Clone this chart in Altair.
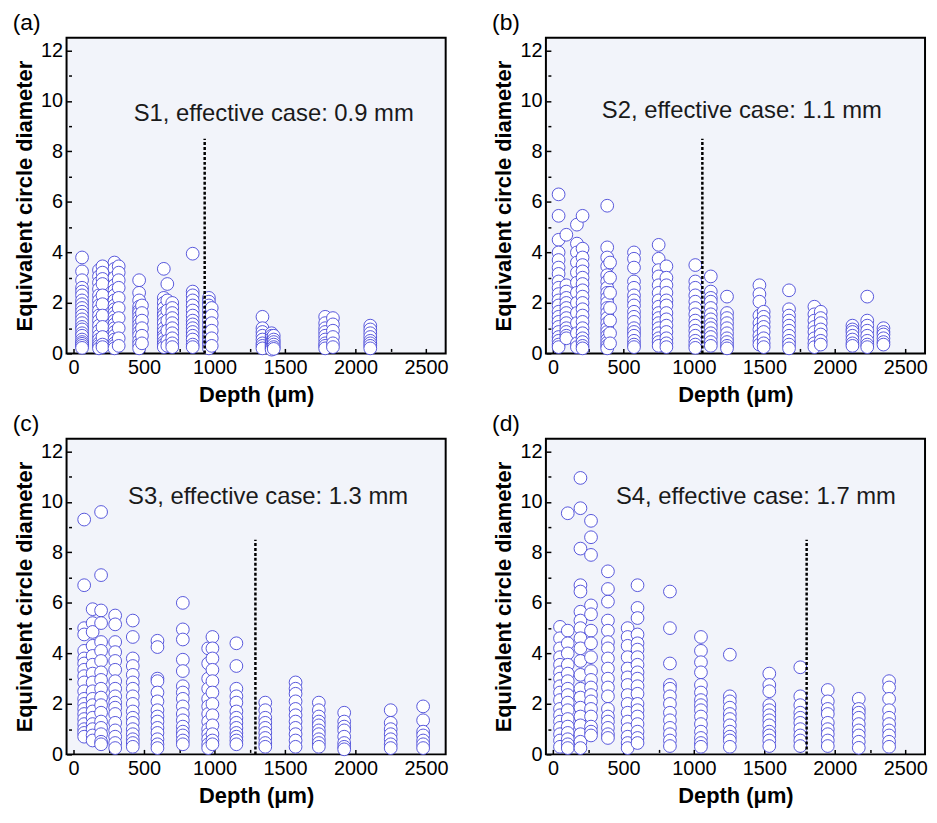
import altair as alt
import pandas as pd

# ---------------- data ----------------
PANEL_LABELS = ["(a)", "(b)", "(c)", "(d)"]
ANNOTATIONS = ["S1, effective case: 0.9 mm", "S2, effective case: 1.1 mm",
               "S3, effective case: 1.3 mm", "S4, effective case: 1.7 mm"]
CASE_DEPTH = [930, 1060, 1290, 1800]          # dashed line position (µm)
CASE_LINE_TOP = 8.5

S1_DEPTH = [60, 180, 205, 290, 320, 465, 485, 640, 665, 700, 845, 960, 980,
            1340, 1405, 1420, 1785, 1840, 2105]
S1_ECD = [
    [3.8, 3.25, 2.9, 2.6, 2.45, 2.3, 2.1, 1.95, 1.8, 1.65, 1.5, 1.35, 1.2, 1.05, 0.95, 0.8, 0.7, 0.55, 0.45, 0.38, 0.3, 0.22],
    [3.3, 3.05, 2.8, 2.55, 2.3, 2.1, 1.9, 1.7, 1.5, 1.3, 1.1, 0.9, 0.7, 0.55, 0.4, 0.3, 0.2],
    [3.45, 3.2, 2.95, 2.75, 2.3, 1.95, 1.5, 1.05, 0.65, 0.35, 0.25],
    [3.6, 3.35, 3.0, 2.7, 2.5, 2.3, 2.1, 1.9, 1.75, 1.6, 1.45, 1.3, 1.15, 1.0, 0.85, 0.7, 0.55, 0.4, 0.3, 0.2],
    [3.45, 3.2, 2.9, 2.6, 2.2, 1.8, 1.4, 1.0, 0.6, 0.3],
    [2.9, 2.4, 2.1, 1.85, 1.7, 1.6, 1.45, 1.3, 1.15, 1.0, 0.85, 0.7, 0.5, 0.35, 0.2],
    [1.9, 1.6, 1.3, 1.0, 0.7, 0.4],
    [3.35, 2.2, 2.0, 1.8, 1.6, 1.5, 1.35, 1.2, 1.0, 0.85, 0.7, 0.6, 0.45, 0.35, 0.25],
    [2.75, 2.1, 1.7, 1.3, 0.9, 0.5, 0.3],
    [2.0, 1.8, 1.6, 1.4, 1.2, 1.0, 0.8, 0.6, 0.4, 0.25],
    [3.95, 2.45, 2.3, 2.1, 1.9, 1.7, 1.5, 1.3, 1.15, 1.0, 0.85, 0.7, 0.55, 0.35, 0.25],
    [2.2, 2.05, 1.9, 1.7, 1.5, 1.3, 1.1, 0.9, 0.75, 0.6, 0.45, 0.35, 0.2],
    [1.8, 1.5, 1.2, 0.9, 0.6, 0.3],
    [1.45, 1.0, 0.85, 0.7, 0.55, 0.4, 0.3, 0.2],
    [0.8, 0.7, 0.6, 0.5, 0.45, 0.4, 0.35, 0.3, 0.25, 0.2, 0.15],
    [0.7, 0.55, 0.45, 0.35, 0.25, 0.18],
    [1.45, 1.2, 1.0, 0.85, 0.7, 0.55, 0.4, 0.3, 0.2],
    [1.4, 1.15, 0.9, 0.65, 0.4, 0.25],
    [1.1, 0.95, 0.8, 0.65, 0.5, 0.4, 0.3, 0.2],
]

S2_DEPTH = [40, 95, 170, 210, 385, 405, 575, 750, 805, 1010, 1120, 1235,
            1465, 1495, 1675, 1855, 1900, 2125, 2230, 2345]
S2_ECD = [
    [6.3, 5.45, 4.5, 4.0, 3.7, 3.4, 3.15, 2.85, 2.6, 2.35, 2.1, 1.9, 1.65, 1.45, 1.25, 1.05, 0.85, 0.65, 0.5, 0.35, 0.25],
    [4.7, 2.7, 2.45, 2.2, 2.0, 1.8, 1.6, 1.4, 1.2, 1.0, 0.85, 0.7, 0.6],
    [5.1, 4.35, 4.0, 3.6, 3.2, 2.8, 2.4, 2.0, 1.6, 1.2, 0.8, 0.4, 0.25],
    [5.45, 4.15, 3.8, 3.5, 3.25, 3.0, 2.75, 2.5, 2.25, 2.0, 1.75, 1.5, 1.25, 1.0, 0.8, 0.6, 0.45, 0.3, 0.2],
    [5.85, 4.2, 3.8, 3.45, 3.1, 2.85, 2.6, 2.4, 2.2, 2.0, 1.8, 1.6, 1.4, 1.2, 1.0, 0.85, 0.7, 0.55, 0.42, 0.3, 0.2],
    [3.6, 3.0, 2.4, 1.8, 1.3, 0.8, 0.4],
    [4.0, 3.75, 3.4, 2.85, 2.6, 2.3, 2.1, 1.9, 1.65, 1.45, 1.25, 1.0, 0.85, 0.7, 0.5, 0.35, 0.25],
    [4.3, 3.75, 3.3, 3.05, 2.7, 2.4, 2.1, 1.85, 1.6, 1.4, 1.2, 1.0, 0.8, 0.6, 0.45, 0.3],
    [3.45, 3.0, 2.7, 2.4, 2.1, 1.9, 1.6, 1.35, 1.1, 0.85, 0.6, 0.4, 0.25],
    [3.5, 2.85, 2.6, 2.3, 2.05, 1.8, 1.55, 1.3, 1.1, 0.9, 0.7, 0.5, 0.35, 0.22],
    [3.05, 2.45, 2.2, 2.05, 1.8, 1.55, 1.35, 1.15, 1.0, 0.8, 0.65, 0.45, 0.3],
    [2.25, 1.6, 1.4, 1.2, 1.0, 0.8, 0.6, 0.45, 0.3, 0.2],
    [2.7, 2.35, 2.05, 1.5, 1.2, 0.95, 0.7, 0.5, 0.35],
    [1.65, 1.45, 1.25, 1.05, 0.85, 0.6, 0.4, 0.25],
    [2.5, 1.75, 1.5, 1.3, 1.1, 0.9, 0.7, 0.5, 0.35, 0.2],
    [1.85, 1.55, 1.3, 1.05, 0.85, 0.6, 0.4, 0.25],
    [1.65, 1.4, 1.2, 0.95, 0.75, 0.5, 0.35],
    [1.1, 0.95, 0.85, 0.7, 0.55, 0.4, 0.3],
    [2.25, 1.3, 1.1, 0.9, 0.7, 0.5, 0.35, 0.25],
    [1.0, 0.85, 0.75, 0.6, 0.45, 0.35],
]

S3_DEPTH = [75, 135, 195, 295, 420, 595, 775, 955, 985, 1155, 1360, 1575,
            1740, 1920, 2250, 2480]
S3_ECD = [
    [9.3, 6.7, 5.0, 4.75, 4.1, 3.8, 3.6, 3.35, 3.1, 2.85, 2.5, 2.2, 2.0, 1.8, 1.6, 1.4, 1.2, 1.0, 0.85, 0.7],
    [5.75, 5.2, 4.85, 4.3, 3.9, 3.55, 3.2, 2.85, 2.5, 2.2, 1.95, 1.7, 1.45, 1.2, 1.0, 0.75, 0.55],
    [9.6, 7.1, 5.7, 5.2, 4.45, 4.1, 3.7, 3.25, 2.95, 2.6, 2.25, 1.95, 1.65, 1.3, 1.05, 0.8, 0.5, 0.4],
    [5.5, 5.15, 4.45, 4.05, 3.7, 3.35, 2.9, 2.6, 2.3, 2.05, 1.85, 1.6, 1.25, 0.95, 0.7, 0.45, 0.25],
    [5.3, 4.65, 3.8, 3.5, 3.15, 2.85, 2.6, 2.3, 2.0, 1.7, 1.45, 1.25, 1.0, 0.8, 0.6, 0.45, 0.3],
    [4.5, 4.25, 3.0, 2.9, 2.45, 2.1, 1.75, 1.5, 1.3, 1.05, 0.85, 0.6, 0.4, 0.25],
    [6.0, 4.95, 4.55, 3.75, 3.3, 2.7, 2.45, 2.2, 1.9, 1.6, 1.35, 1.1, 0.9, 0.75, 0.55, 0.4],
    [4.2, 3.6, 3.0, 2.6, 2.2, 1.9, 1.6, 1.3, 1.0, 0.8, 0.6, 0.4, 0.25],
    [4.65, 4.2, 3.8, 3.35, 2.9, 2.45, 2.0, 1.55, 1.15, 0.8, 0.55, 0.4],
    [4.4, 3.5, 2.6, 2.3, 2.05, 1.7, 1.45, 1.25, 1.05, 0.85, 0.7, 0.55, 0.4],
    [2.05, 1.75, 1.45, 1.25, 1.05, 0.85, 0.65, 0.45, 0.3],
    [2.85, 2.6, 2.4, 2.1, 1.8, 1.55, 1.3, 1.05, 0.8, 0.55, 0.3],
    [2.05, 1.75, 1.5, 1.3, 1.15, 0.95, 0.8, 0.6, 0.45, 0.3],
    [1.65, 1.3, 1.1, 0.95, 0.7, 0.45, 0.3, 0.2],
    [1.75, 1.25, 1.0, 0.8, 0.6, 0.4, 0.25],
    [1.9, 1.35, 0.9, 0.75, 0.55, 0.4, 0.25],
]

S4_DEPTH = [50, 105, 195, 270, 390, 530, 600, 830, 1050, 1255, 1535, 1755,
            1950, 2170, 2385]
S4_ECD = [
    [5.05, 4.6, 4.2, 3.85, 3.55, 3.25, 3.0, 2.7, 2.45, 2.15, 1.8, 1.55, 1.3, 1.05, 0.8, 0.55, 0.3],
    [9.55, 4.9, 4.4, 4.0, 3.55, 3.2, 2.9, 2.6, 2.35, 2.05, 1.75, 1.4, 1.1, 0.85, 0.6, 0.4, 0.25],
    [10.95, 9.75, 8.15, 6.7, 6.45, 5.65, 5.3, 5.0, 4.6, 4.2, 3.7, 3.15, 2.6, 2.25, 1.85, 1.5, 1.15, 0.8, 0.5, 0.25],
    [9.25, 8.6, 7.9, 5.9, 5.55, 4.9, 4.4, 3.85, 3.3, 2.95, 2.65, 2.35, 2.1, 1.8, 1.5, 1.1, 0.9, 0.75],
    [7.25, 6.55, 6.05, 5.3, 4.9, 4.45, 4.2, 3.8, 3.4, 3.0, 2.65, 2.3, 1.8, 1.5, 1.3, 1.05, 0.8, 0.65],
    [5.0, 4.65, 4.3, 3.85, 3.4, 3.05, 2.75, 2.35, 2.0, 1.65, 1.3, 1.0, 0.7, 0.45, 0.25],
    [6.7, 5.8, 5.4, 4.75, 4.4, 4.15, 3.85, 3.55, 3.25, 3.0, 2.7, 2.4, 2.0, 1.75, 1.5, 1.2, 0.9, 0.65, 0.45],
    [6.45, 5.0, 3.6, 2.75, 2.6, 2.3, 2.0, 1.65, 1.35, 1.05, 0.8, 0.55, 0.33],
    [4.65, 4.1, 3.65, 3.25, 2.75, 2.45, 2.15, 1.95, 1.75, 1.5, 1.2, 0.9, 0.65, 0.45, 0.3],
    [3.95, 2.3, 2.1, 1.85, 1.6, 1.4, 1.15, 0.9, 0.7, 0.55, 0.3],
    [3.2, 2.75, 2.5, 1.95, 1.75, 1.55, 1.35, 1.15, 0.9, 0.75, 0.55, 0.33],
    [3.45, 2.3, 1.95, 1.65, 1.45, 1.25, 1.0, 0.75, 0.55, 0.33],
    [2.55, 2.1, 1.8, 1.6, 1.25, 1.0, 0.8, 0.55, 0.33],
    [2.2, 1.8, 1.65, 1.45, 1.2, 0.95, 0.75, 0.5, 0.26],
    [2.9, 2.65, 2.2, 1.75, 1.45, 1.2, 0.95, 0.75, 0.5, 0.3],
]

ALL_DEPTH = [S1_DEPTH, S2_DEPTH, S3_DEPTH, S4_DEPTH]
ALL_ECD = [S1_ECD, S2_ECD, S3_ECD, S4_ECD]

# annotation anchor (data coords)
ANNOT_X = [1420, 1340, 1380, 1440]
ANNOT_Y = [9.5, 9.6, 10.2, 10.2]

# ---------------- styling ----------------
FONT = "Liberation Sans"
PW, PH = 382, 318

x_scale = alt.Scale(domain=[-50, 2640], nice=False, zero=False)
y_scale = alt.Scale(domain=[0, 12.5], nice=False, zero=False)

x_axis = alt.Axis(
    title="Depth (μm)", values=list(range(0, 2501, 250)), format="d",
    labelExpr="datum.value % 500 === 0 ? datum.label : ''",
    tickSize={"condition": {"test": "datum.value % 500 === 0", "value": 5}, "value": 3},
    offset=-5, domain=False, grid=False, tickColor="black", tickWidth=1.5,
    labelFont=FONT, labelFontSize=20, labelColor="black", labelPadding=4,
    titleFont=FONT, titleFontSize=22, titleFontWeight="bold", titleColor="black",
    titlePadding=7,
)
y_axis = alt.Axis(
    title="Equivalent circle diameter", values=list(range(0, 13)), format="d",
    labelExpr="datum.value % 2 === 0 ? datum.label : ''",
    tickSize={"condition": {"test": "datum.value % 2 === 0", "value": 5}, "value": 3},
    offset=-5, domain=False, grid=False, tickColor="black", tickWidth=1.5,
    labelFont=FONT, labelFontSize=20, labelColor="black", labelPadding=4,
    titleFont=FONT, titleFontSize=22, titleFontWeight="bold", titleColor="black",
    titlePadding=4,
)


def panel(i):
    rows = [{"depth": d, "ecd": v}
            for d, col in zip(ALL_DEPTH[i], ALL_ECD[i]) for v in col]
    df = pd.DataFrame(rows)
    X = alt.X("depth:Q", scale=x_scale, axis=x_axis)
    Y = alt.Y("ecd:Q", scale=y_scale, axis=y_axis)

    pts = alt.Chart(df).mark_circle(
        size=165, fill="white", stroke="#4646d8", strokeWidth=0.9,
        opacity=1, fillOpacity=1, strokeOpacity=1,
    ).encode(x=X, y=Y)

    line_df = pd.DataFrame({"depth": [CASE_DEPTH[i]], "ecd": [0.0],
                            "ecd2": [CASE_LINE_TOP]})
    rule = alt.Chart(line_df).mark_rule(
        color="black", strokeWidth=2.5, strokeDash=[3, 2]
    ).encode(x=X, y=Y, y2="ecd2:Q")

    txt_df = pd.DataFrame({"depth": [ANNOT_X[i]], "ecd": [ANNOT_Y[i]],
                           "label": [ANNOTATIONS[i]]})
    txt = alt.Chart(txt_df).mark_text(
        font=FONT, fontSize=24, color="#1a1a1a", align="center", baseline="middle"
    ).encode(x=X, y=Y, text="label:N")

    return alt.layer(pts, rule, txt).properties(
        width=PW, height=PH,
        title=alt.TitleParams(
            text=PANEL_LABELS[i], anchor="start", frame="bounds",
            font=FONT, fontSize=23, fontWeight="normal", color="black",
            offset=3, dx=-1,
        ),
    )


top = alt.hconcat(panel(0), panel(1), spacing=41)
bottom = alt.hconcat(panel(2), panel(3), spacing=41)
chart = alt.vconcat(top, bottom, spacing=6).properties(
    padding={"left": 3, "top": 0, "right": 0, "bottom": 0},
    background="white",
).configure_view(
    fill="#f2f4fa", stroke="black", strokeWidth=2
)

chart.save("out.html", embed_options={"renderer": "svg", "actions": False})
